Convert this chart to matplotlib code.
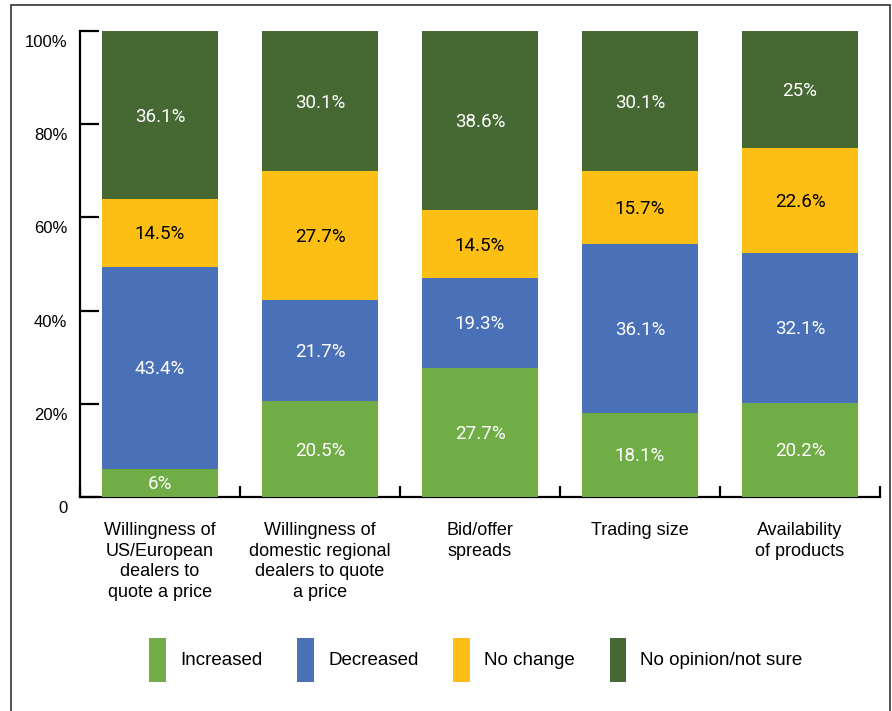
import matplotlib.pyplot as plt
import matplotlib.transforms as mtransforms
from matplotlib.patches import Rectangle
import numpy as np

categories = [
    "Willingness of\nUS/European\ndealers to\nquote a price",
    "Willingness of\ndomestic regional\ndealers to quote\na price",
    "Bid/offer\nspreads",
    "Trading size",
    "Availability\nof products",
]
series_names = ["Increased", "Decreased", "No change", "No opinion/not sure"]
increased = [6, 20.5, 27.7, 18.1, 20.2]
decreased = [43.4, 21.7, 19.3, 36.1, 32.1]
no_change = [14.5, 27.7, 14.5, 15.7, 22.6]
no_opinion = [36.1, 30.1, 38.6, 30.1, 25]
y_ticks = [0, 20, 40, 60, 80, 100]
y_tick_labels = ["0", "20%", "40%", "60%", "80%", "100%"]

colors = ["#70AD47", "#4A71B8", "#FDBF13", "#466833"]
label_colors = ["white", "white", "black", "white"]

W, H = 892, 711
fig = plt.figure(figsize=(W / 100, H / 100), dpi=100)
ax = fig.add_axes([80 / W, 1 - 497 / H, 800 / W, 466 / H])

x = np.arange(len(categories))
bottom = np.zeros(len(categories))
handles = []
for vals, name, col, lc in zip([increased, decreased, no_change, no_opinion],
                               series_names, colors, label_colors):
    bars = ax.bar(x, vals, width=0.73, bottom=bottom, color=col,
                  label=name, zorder=3)
    texts = ax.bar_label(bars, labels=[f"{v:g}%" for v in vals],
                         label_type="center", color=lc, fontsize=13.5,
                         family="Roboto")
    for t in texts:
        t.set_y(t.get_position()[1] - 1)
    bottom += np.array(vals)
    handles.append(bars)

ax.set_xlim(-0.5, len(categories) - 0.5)
ax.set_ylim(0, 100)
ax.spines["top"].set_visible(False)
ax.spines["right"].set_visible(False)
ax.spines["left"].set_linewidth(1.6)
ax.spines["bottom"].set_linewidth(1.6)

ax.set_yticks(y_ticks)
ax.set_yticklabels(y_tick_labels, family="Liberation Sans", fontsize=12)
ax.tick_params(axis="y", direction="in", length=14, width=1.6, pad=9)
offset = mtransforms.ScaledTranslation(0, -10 / 100, fig.dpi_scale_trans)
for lab in ax.get_yticklabels():
    lab.set_transform(lab.get_transform() + offset)

# category separators as ticks, labels as minor ticks at bar centres
ax.set_xticks(np.arange(len(categories) + 1) - 0.5)
ax.set_xticklabels([])
ax.tick_params(axis="x", which="major", direction="in", length=8, width=1.6)
ax.set_xticks(x, minor=True)
ax.set_xticklabels(categories, minor=True, family="Liberation Sans",
                   fontsize=13, linespacing=1.28)
ax.tick_params(axis="x", which="minor", length=0, pad=18)

fig.legend(handles, series_names, loc="center", ncol=4,
           bbox_to_anchor=(476 / W, 1 - 660 / H), frameon=False,
           prop={"family": "Liberation Sans", "size": 13.5},
           handlelength=0.9, handleheight=3.3, handletextpad=0.75,
           columnspacing=1.85)

fig.add_artist(Rectangle((11 / W, -0.02), (890 - 11) / W, 1 - 5 / H + 0.02,
                         transform=fig.transFigure, fill=False,
                         edgecolor="#333333", linewidth=1.2))

fig.savefig("out.png", dpi=100)
